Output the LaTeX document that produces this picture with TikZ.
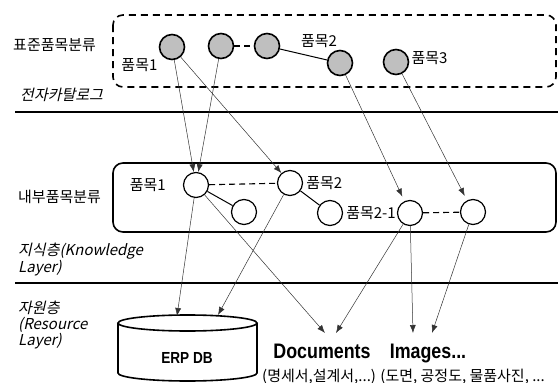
\documentclass[tikz,border=0pt]{standalone}
\usepackage{fontspec}
\setmainfont{Noto Sans CJK KR}
\newfontfamily\krslant{Noto Sans CJK KR}[FakeSlant=0.22]
\newfontfamily\narrowbold{Liberation Sans Bold}[FakeStretch=0.85]
\usepackage{tikz}
\usetikzlibrary{positioning}
\usetikzlibrary{arrows.meta}

\begin{document}
\begin{tikzpicture}[
  x=1pt,y=-1pt,
  every node/.style={font=\fontsize{15}{17}\selectfont},
  topitem/.style={circle,draw,line width=1.6pt,fill=black!25,minimum size=25pt,inner sep=0pt},
  item/.style={circle,draw,line width=1.2pt,fill=white,minimum size=25pt,inner sep=0pt},
  tag/.style={inner sep=1pt},
  group/.style={anchor=west,inner sep=0pt},
  layer/.style={font=\krslant\fontsize{15}{16}\selectfont,align=left,anchor=west,inner sep=0pt},
  big/.style={font=\narrowbold\fontsize{21}{21}\selectfont,anchor=base,inner sep=0pt},
  dashlink/.style={line width=1.1pt,dash pattern=on 6pt off 4pt},
  plainlink/.style={line width=1pt},
  link/.style={-{Latex[length=8pt,width=6pt]},line width=0.5pt,black!80}
  ]
  \useasboundingbox (0,0) rectangle (558,383);

  % layers
  \draw [line width=2.5pt] (15,112) -- (558,112);
  \draw [line width=2.5pt] (15,283) -- (558,283);
  \draw [line width=1.6pt,rounded corners=10pt,dash pattern=on 7pt off 5pt] (113,15) rectangle (556,87);
  \draw [line width=1.6pt,rounded corners=10pt] (113,163) rectangle (556,232);

  \node (standard)  [group] at (13,45)  {표준품목분류};
  \node (internal)  [group] at (18,197) {내부품목분류};
  \node (catalog)   [layer] at (20,95)  {전자카탈로그};
  \node (knowledge) [layer] at (18,260) {지식층(Knowledge\\Layer)};
  \node (resource)  [layer] at (18,325) {자원층\\(Resource\\Layer)};

  % standard items
  \node (c1) [topitem] at (172,47) {};
  \node (c2) [topitem] at (221,46) {};
  \node (c3) [topitem] at (267,46) {};
  \node (c4) [topitem] at (340,63) {};
  \node (c5) [topitem] at (396,62) {};
  \node (c1 tag) [tag,below left=1pt and 4pt of c1] {품목1};
  \node (c4 tag) [tag,above=1pt of c4,xshift=-21pt] {품목2};
  \node (c5 tag) [tag,right=1pt of c5,yshift=4pt] {품목3};

  % internal items
  \node (m1) [item] at (196,185) {};
  \node (m2) [item] at (290,183) {};
  \node (m3) [item] at (244,212) {};
  \node (m4) [item] at (330,213) {};
  \node (m5) [item] at (410,213) {};
  \node (m6) [item] at (473,212) {};
  \node (m1 tag) [tag,left=16pt of m1] {품목1};
  \node (m2 tag) [tag,right=2pt of m2] {품목2};
  \node (m4 tag) [tag,right=2pt of m4] {품목2-1};

  % resources
  \draw [line width=1.6pt] (118,323) -- (118,373) arc[start angle=180,end angle=360,x radius=69.5pt,y radius=8pt] -- (257,323);
  \draw [line width=1.6pt] (187.5,323) ellipse [x radius=69.5pt,y radius=8pt];
  \node (erp)    [big,font=\narrowbold\fontsize{16}{16}\selectfont] at (187,363) {ERP DB};
  \node (docs)   [big] at (322,358) {Documents};
  \node (images) [big] at (428,358) {Images...};
  \node (details) [anchor=base west,inner sep=0pt] at (262,381) {(명세서,설계서,...) (도면, 공정도, 물품사진, ...};
  \coordinate (erp in1) at (177,316);
  \coordinate (erp in2) at (218,315);
  \coordinate (doc in1) at (325,333);
  \coordinate (doc in2) at (336,333);
  \coordinate (img in1) at (413,333);
  \coordinate (img in2) at (432,333);

  \draw [dashlink]  (c2) -- (c3);
  \draw [plainlink] (c3) -- (c4);
  \draw [dashlink]  (m1) -- (m2);
  \draw [plainlink] (m1) -- (m3);
  \draw [plainlink] (m2) -- (m4);
  \draw [dashlink]  (m5) -- (m6);

  \draw [link] (c1) -- (m1);
  \draw [link] (c2) -- (m1);
  \draw [link] (c1) -- (m2);
  \draw [link,shorten >=5pt] (c4) -- (m5);
  \draw [link,shorten >=5pt] (c5) -- (m6);
  \draw [link] (m1) -- (erp in1);
  \draw [link] (m2) -- (erp in2);
  \draw [link] (m1) -- (doc in1);
  \draw [link] (m5) -- (doc in2);
  \draw [link] (m5) -- (img in1);
  \draw [link] (m6) -- (img in2);
\end{tikzpicture}
\end{document}
